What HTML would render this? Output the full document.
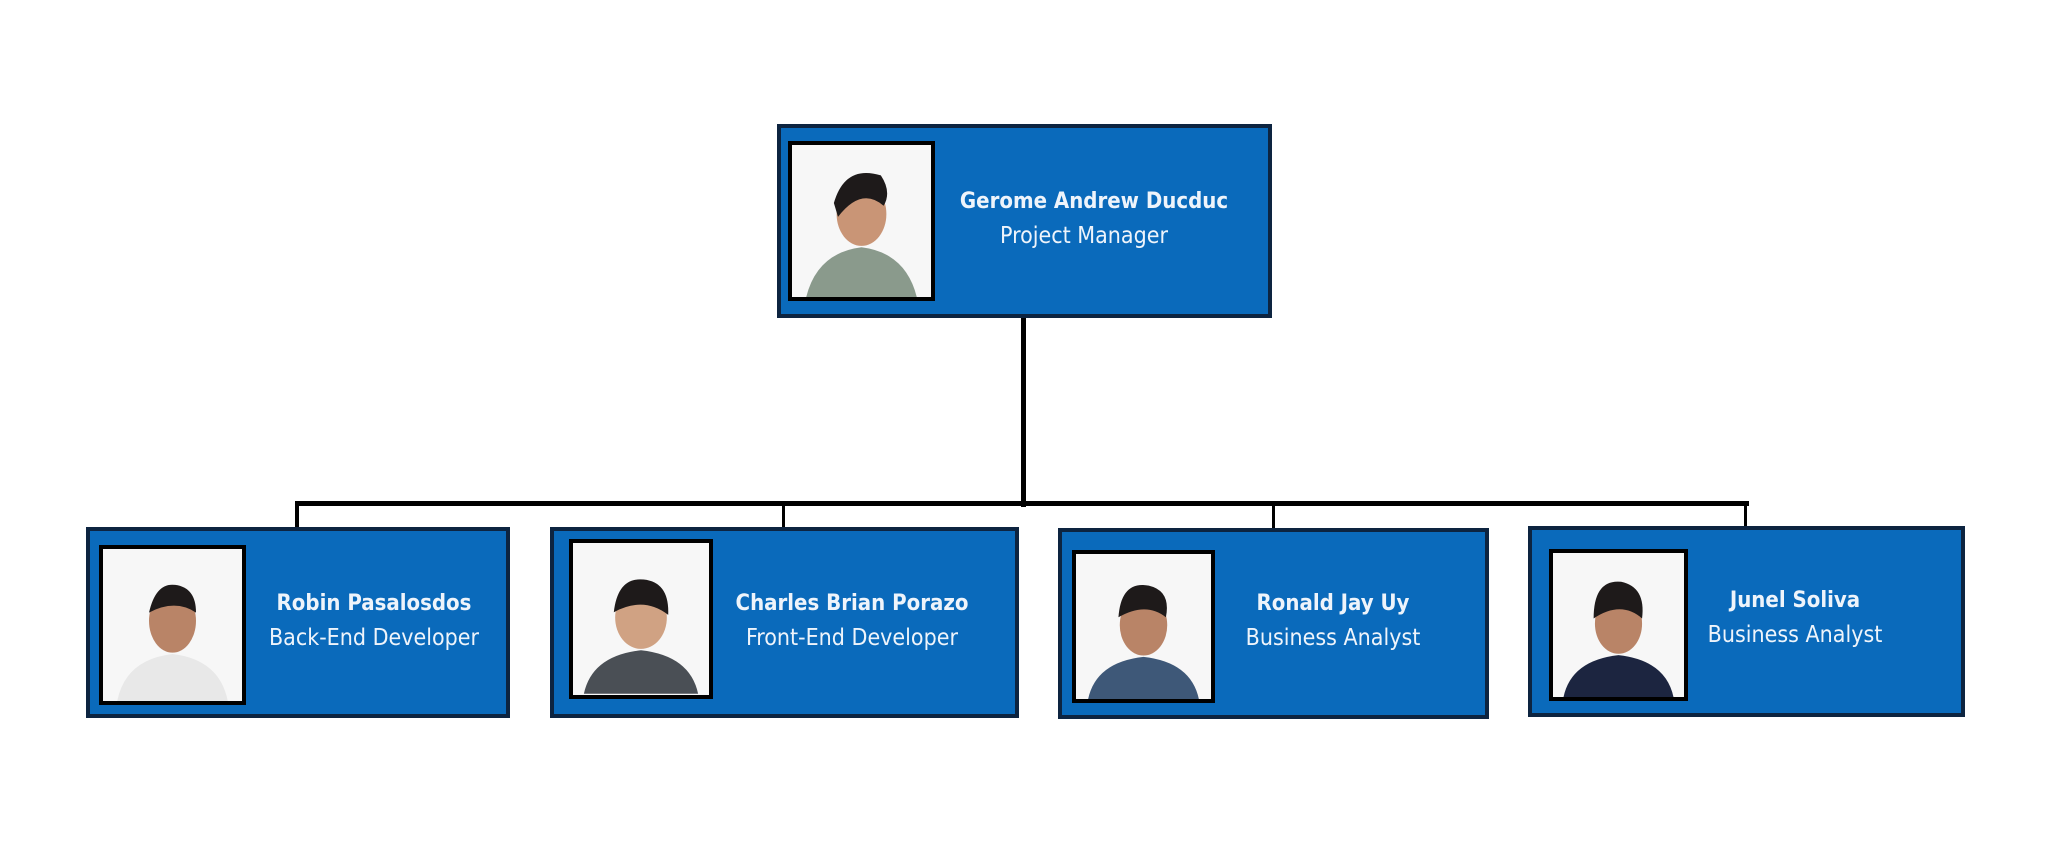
<!DOCTYPE html>
<html><head><meta charset="utf-8"><style>
body{margin:0;width:2045px;height:844px;background:#fff;position:relative;overflow:hidden;font-family:"DejaVu Sans Condensed","Liberation Sans",sans-serif}
.box{position:absolute;background:#0a6abb;border:4px solid #0d2440;box-sizing:border-box}
.ph{position:absolute;background:#f7f7f7;border:4px solid #000;box-sizing:border-box;overflow:hidden}
.ph svg{position:absolute;left:0;top:0;width:100%;height:100%}
.t{position:absolute;color:#eef4fb;text-align:center;white-space:nowrap;transform:translateX(-50%);font-size:23px;line-height:1}
.t b{display:block;font-weight:bold;font-size:22px;margin-bottom:12px}
.l{position:absolute;background:#000}
</style></head><body>
<div class="l" style="left:1021px;top:317px;width:5px;height:190px"></div>
<div class="l" style="left:295px;top:501px;width:1454px;height:5px"></div>
<div class="l" style="left:295px;top:501px;width:4px;height:27px"></div>
<div class="l" style="left:782px;top:501px;width:3px;height:27px"></div>
<div class="l" style="left:1272px;top:501px;width:3px;height:27px"></div>
<div class="l" style="left:1744px;top:501px;width:3px;height:27px"></div>

<div class="box" style="left:777px;top:124px;width:495px;height:194px"></div>
<div class="ph" style="left:788px;top:141px;width:147px;height:160px"><svg viewBox="0 0 100 110"><ellipse cx="50" cy="50" rx="18" ry="23" fill="#c99576"/><path d="M30 42 Q38 14 64 22 Q72 34 66 44 Q50 30 33 52Z" fill="#1e1a1a"/><path d="M10 110 Q18 78 50 74 Q82 78 90 110Z" fill="#8a9a8c"/></svg></div>
<div class="t" style="left:1094px;top:191px"><b>Gerome Andrew Ducduc</b><span style="position:relative;left:-10px">Project Manager</span></div>

<div class="box" style="left:86px;top:527px;width:424px;height:191px"></div>
<div class="ph" style="left:99px;top:545px;width:147px;height:160px"><svg viewBox="0 0 100 110"><ellipse cx="50" cy="52" rx="17" ry="23" fill="#b98467"/><path d="M33 46 Q38 24 52 26 Q67 28 67 46 Q52 36 33 46Z" fill="#1e1a1a"/><path d="M10 110 Q16 80 50 76 Q84 80 90 110Z" fill="#e8e8e8"/></svg></div>
<div class="t" style="left:374px;top:593px"><b>Robin Pasalosdos</b>Back-End Developer</div>

<div class="box" style="left:550px;top:527px;width:469px;height:191px"></div>
<div class="ph" style="left:569px;top:539px;width:144px;height:160px"><svg viewBox="0 0 100 110"><ellipse cx="50" cy="54" rx="19" ry="23" fill="#d0a283"/><path d="M30 50 Q33 24 52 26 Q71 28 70 52 Q52 38 30 50Z" fill="#1e1a1a"/><path d="M8 110 Q14 82 50 78 Q86 82 92 110Z" fill="#4a4f55"/></svg></div>
<div class="t" style="left:852px;top:593px"><b>Charles Brian Porazo</b>Front-End Developer</div>

<div class="box" style="left:1058px;top:528px;width:431px;height:191px"></div>
<div class="ph" style="left:1072px;top:550px;width:143px;height:153px"><svg viewBox="0 0 100 110"><ellipse cx="50" cy="54" rx="18" ry="23" fill="#b98467"/><path d="M31 48 Q33 20 54 24 Q71 28 67 48 Q52 36 31 48Z" fill="#1e1a1a"/><path d="M8 110 Q14 82 50 78 Q86 82 92 110Z" fill="#3e5878"/></svg></div>
<div class="t" style="left:1333px;top:593px"><b>Ronald Jay Uy</b>Business Analyst</div>

<div class="box" style="left:1528px;top:526px;width:437px;height:191px"></div>
<div class="ph" style="left:1549px;top:549px;width:139px;height:152px"><svg viewBox="0 0 100 110"><ellipse cx="50" cy="54" rx="18" ry="23" fill="#b98467"/><path d="M31 50 Q31 20 52 22 Q71 26 68 50 Q52 36 31 50Z" fill="#1e1a1a"/><path d="M8 110 Q14 82 50 78 Q86 82 92 110Z" fill="#1c2540"/></svg></div>
<div class="t" style="left:1795px;top:590px"><b>Junel Soliva</b>Business Analyst</div>
</body></html>
